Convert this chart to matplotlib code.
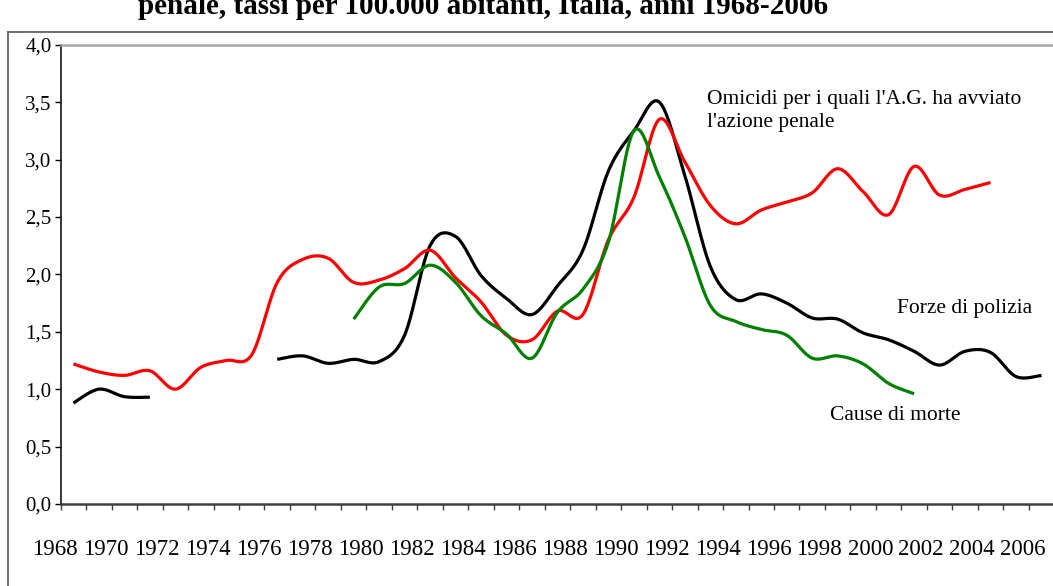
import numpy as np
import matplotlib
matplotlib.use("Agg")
import matplotlib.pyplot as plt
from matplotlib.lines import Line2D

plt.rcParams['font.family'] = ['Liberation Serif', 'DejaVu Serif']

years = list(range(1968, 2007))
N = None

# Forze di polizia
polizia = [0.88, 1.00, 0.935, 0.93, N, N, N, N, 1.26, 1.29, 1.225, 1.26, 1.24, 1.47,
           2.25, 2.33, 1.99, 1.79, 1.65, 1.90, 2.21, 2.90, 3.25, 3.50, 2.86, 2.07,
           1.78, 1.83, 1.75, 1.62, 1.61, 1.49, 1.43, 1.33, 1.21, 1.33, 1.32, 1.11, 1.12]
# Omicidi per i quali l'A.G. ha avviato l'azione penale
azione = [1.22, 1.15, 1.12, 1.16, 1.00, 1.19, 1.25, 1.30, 1.93, 2.13, 2.14, 1.93, 1.95,
          2.05, 2.21, 1.97, 1.76, 1.47, 1.43, 1.68, 1.65, 2.30, 2.67, 3.35, 2.98, 2.60,
          2.44, 2.56, 2.63, 2.71, 2.92, 2.72, 2.52, 2.94, 2.69, 2.74, 2.80, N, N]
# Cause di morte
cause = [N, N, N, N, N, N, N, N, N, N, N, 1.61, 1.89, 1.92, 2.08, 1.93, 1.64, 1.48,
         1.27, 1.67, 1.87, 2.28, 3.25, 2.85, 2.33, 1.73, 1.59, 1.52, 1.47, 1.27, 1.29,
         1.22, 1.05, 0.96, N, N, N, N, N]

label_years = list(range(1968, 2007, 2))
ytick_vals = [0.0, 0.5, 1.0, 1.5, 2.0, 2.5, 3.0, 3.5, 4.0]


def smooth(xs, ys, n=24):
    # bezier smoothing like the spreadsheet "smoothed line" option
    pts = np.column_stack([xs, ys]).astype(float)
    out = []
    for i in range(len(pts) - 1):
        p0 = pts[i - 1] if i > 0 else pts[i]
        p1, p2 = pts[i], pts[i + 1]
        p3 = pts[i + 2] if i + 2 < len(pts) else pts[i + 1]
        c1 = p1 + (p2 - p0) / 6
        c2 = p2 - (p3 - p1) / 6
        t = np.linspace(0, 1, n)[:, None]
        seg = (1 - t) ** 3 * p1 + 3 * (1 - t) ** 2 * t * c1 + 3 * (1 - t) * t ** 2 * c2 + t ** 3 * p2
        out.append(seg if i == 0 else seg[1:])
    return np.vstack(out)


def draw(ax, vals, color):
    runs = []
    cur = []
    for y, v in zip(years, vals):
        if v is None:
            if cur:
                runs.append(cur)
            cur = []
        else:
            cur.append((y, v))
    if cur:
        runs.append(cur)
    for r in runs:
        xs, ys = zip(*r)
        c = smooth(xs, ys)
        ax.plot(c[:, 0], c[:, 1], color=color, lw=2.3, solid_capstyle='butt')


W, H = 1053, 586
fig = plt.figure(figsize=(W / 100, H / 100), dpi=100)
ax = fig.add_axes([60.7 / W, 1 - 504 / H, (1054.2 - 60.7) / W, (504 - 44.7) / H])

draw(ax, polizia, 'black')
draw(ax, azione, '#ff0000')
draw(ax, cause, '#008000')

ax.set_xlim(1967.5, 2006.5)
ax.set_ylim(0, 4)
ax.set_yticks(ytick_vals)
ax.set_yticklabels([f"{v:.1f}".replace('.', ',') for v in ytick_vals], fontsize=15)
ax.set_xticks([1967.5 + k for k in range(40)])
ax.set_xticklabels([])
ax.tick_params(axis='y', direction='out', length=4, width=1, pad=2.5, colors='black')
ax.tick_params(axis='x', direction='out', length=4.3, width=1, color='#404040')

for yl in label_years:
    ax.text(yl - 0.72, -0.4, str(yl), ha='center', va='center', fontsize=16.5)

ax.spines['right'].set_visible(False)
ax.spines['left'].set_color('black')
ax.spines['left'].set_linewidth(1.1)
ax.spines['bottom'].set_color('#404040')
ax.spines['bottom'].set_linewidth(1.8)
ax.spines['top'].set_color('#a6a6a6')
ax.spines['top'].set_linewidth(1.8)

# annotations
fig.text(707 / W, 1 - 103.6 / H, "Omicidi per i quali l'A.G. ha avviato", fontsize=15.5, va='baseline')
fig.text(707 / W, 1 - 127 / H, "l'azione penale", fontsize=15.5, va='baseline')
fig.text(897 / W, 1 - 313 / H, "Forze di polizia", fontsize=15.5, va='baseline')
fig.text(830 / W, 1 - 420 / H, "Cause di morte", fontsize=15.5, va='baseline')

# title (cut off at the top, as in the source)
fig.text(483.5 / W, 1 - 14 / H, "penale, tassi per 100.000 abitanti, Italia, anni 1968-2006",
         fontsize=21, fontweight='bold', ha='center', va='baseline')

# chart area border
fig.add_artist(Line2D([8 / W, 8 / W], [0, 1 - 32 / H], color='#595959', lw=1.2))
fig.add_artist(Line2D([8 / W, 1.0], [1 - 32 / H, 1 - 32 / H], color='#595959', lw=1.2))

fig.savefig('out.png', dpi=100)
